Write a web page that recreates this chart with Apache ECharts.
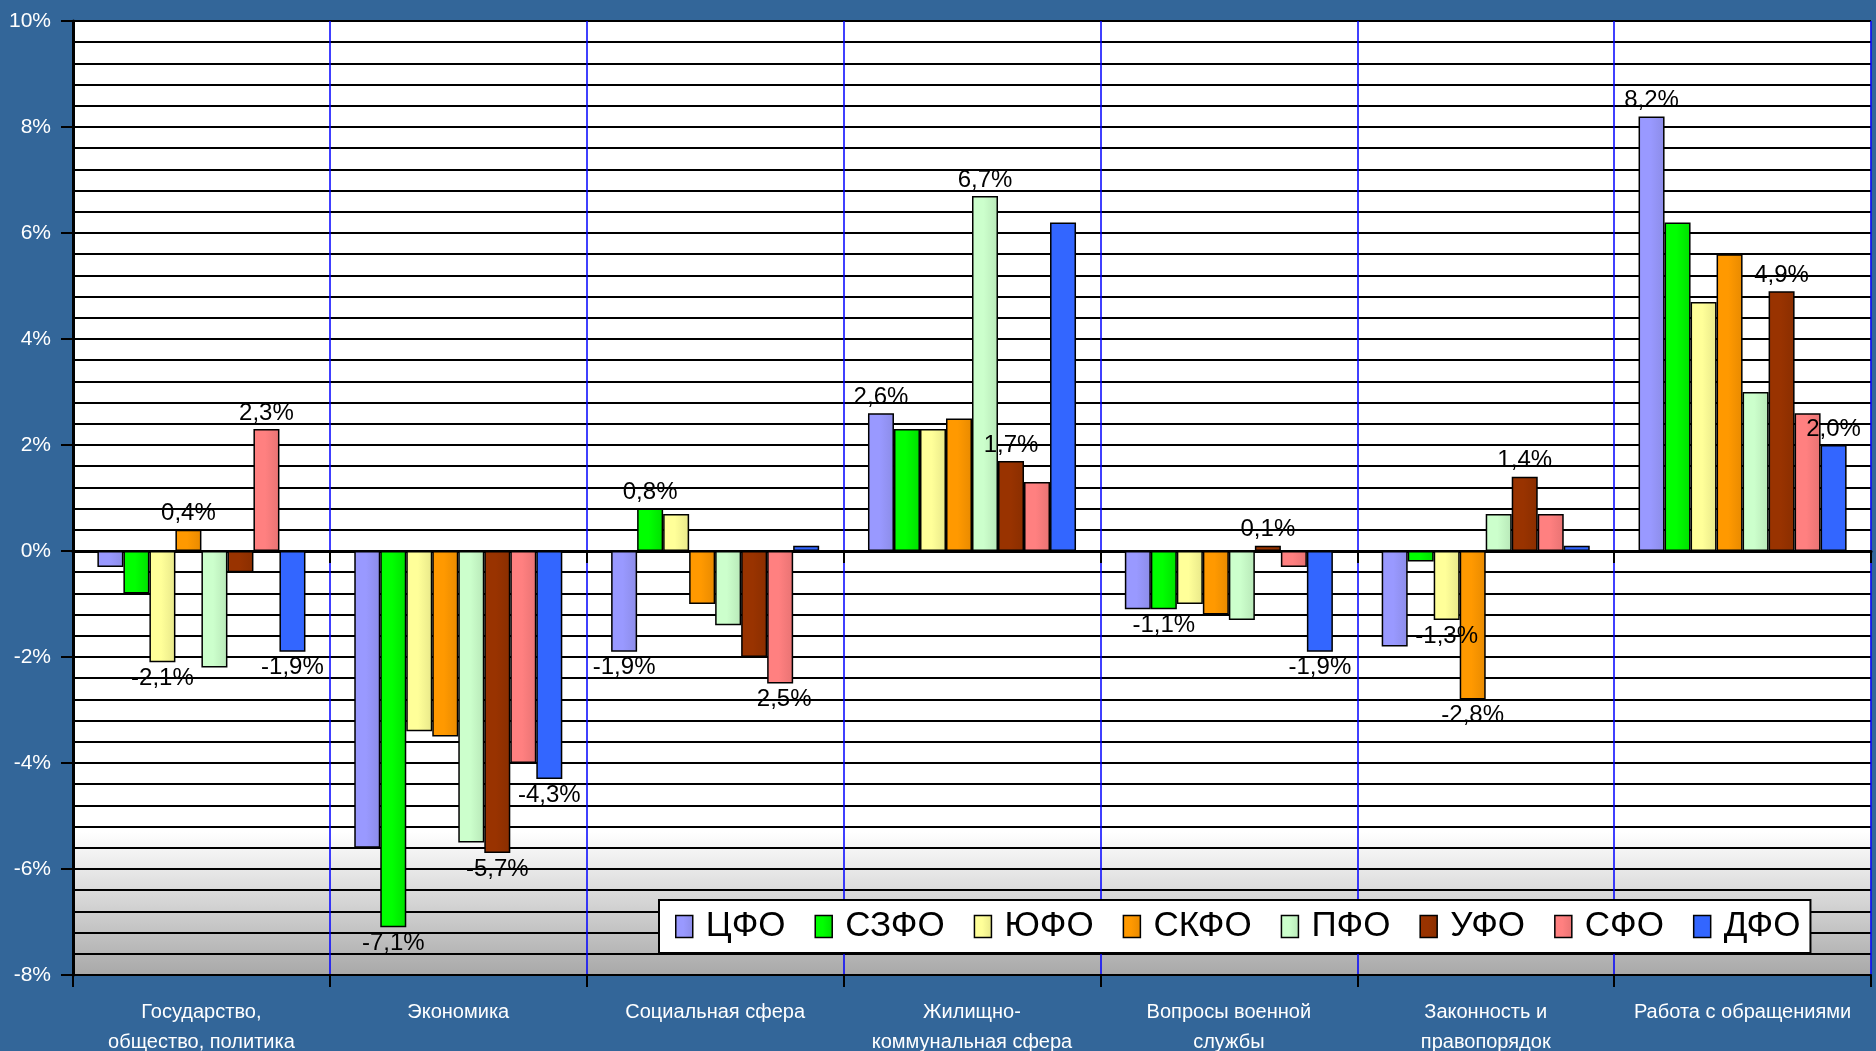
<!DOCTYPE html>
<html>
<head>
<meta charset="utf-8">
<script src="https://cdn.jsdelivr.net/npm/echarts@6/dist/echarts.min.js"></script>
<style>
  html, body { margin: 0; padding: 0; background: #336699; }
  #chart { width: 1876px; height: 1051px; }
</style>
</head>
<body>
<div id="chart"></div>
<script>
const categories = [
  'Государство,\nобщество, политика',
  'Экономика',
  'Социальная сфера',
  'Жилищно-\nкоммунальная сфера',
  'Вопросы военной\nслужбы',
  'Законность и\nправопорядок',
  'Работа с обращениями'
]
const regions = ['ЦФО', 'СЗФО', 'ЮФО', 'СКФО', 'ПФО', 'УФО', 'СФО', 'ДФО']

// change, % — one array per federal district, in category order
const cfo = [-0.3, -5.6, -1.9, 2.6, -1.1, -1.8, 8.2]
const szfo = [-0.8, -7.1, 0.8, 2.3, -1.1, -0.2, 6.2]
const yufo = [-2.1, -3.4, 0.7, 2.3, -1.0, -1.3, 4.7]
const skfo = [0.4, -3.5, -1.0, 2.5, -1.2, -2.8, 5.6]
const pfo = [-2.2, -5.5, -1.4, 6.7, -1.3, 0.7, 3.0]
const ufo = [-0.4, -5.7, -2.0, 1.7, 0.1, 1.4, 4.9]
const sfo = [2.3, -4.0, -2.5, 1.3, -0.3, 0.7, 2.6]
const dfo = [-1.9, -4.3, 0.1, 6.2, -1.9, 0.1, 2.0]
const values = [cfo, szfo, yufo, skfo, pfo, ufo, sfo, dfo]

// which bars carry a value label, per category
const labeled = [
  ['ЮФО', 'СКФО', 'СФО', 'ДФО'],
  ['СЗФО', 'УФО', 'ДФО'],
  ['ЦФО', 'СЗФО', 'СФО'],
  ['ЦФО', 'ПФО', 'УФО'],
  ['СЗФО', 'УФО', 'ДФО'],
  ['ЮФО', 'СКФО', 'УФО'],
  ['ЦФО', 'УФО', 'ДФО']
]

const yMin = -8
const yMax = 10
const yStep = 2

const colors = [
  ['#9999ff', '#8c8ce8'],
  ['#00ff00', '#00e000'],
  ['#ffff99', '#e8e88a'],
  ['#ff9900', '#e88a00'],
  ['#ccffcc', '#b8e8b8'],
  ['#993300', '#8a2e00'],
  ['#ff8080', '#e87373'],
  ['#3366ff', '#3366ff']
]

const font = '"Liberation Sans", Arial, sans-serif'
const fmt = v => v.toFixed(1).replace('.', ',') + '%'

function barGradient(c) {
  return {
    type: 'linear', x: 0, y: 0, x2: 1, y2: 0,
    colorStops: [
      { offset: 0, color: c[0] },
      { offset: 0.45, color: c[0] },
      { offset: 1, color: c[1] }
    ]
  }
}

const series = regions.map((name, i) => ({
  name,
  type: 'bar',
  xAxisIndex: 0,
  barGap: '0%',
  barCategoryGap: '19%',
  itemStyle: { color: barGradient(colors[i]), borderColor: '#000', borderWidth: 1.5 },
  data: values[i].map((v, j) => ({
    value: v,
    label: {
      show: labeled[j].includes(name),
      position: v >= 0 ? 'top' : 'bottom',
      distance: 4,
      formatter: p => fmt(p.value),
      color: '#000',
      fontSize: 24,
      fontFamily: font
    }
  }))
}))

const chart = echarts.init(document.getElementById('chart'))
chart.setOption({
  backgroundColor: '#336699',
  animation: false,
  grid: {
    left: 73, right: 5, top: 21, bottom: 76,
    outerBoundsMode: 'none',
    show: true,
    borderColor: '#808080',
    borderWidth: 1,
    backgroundColor: {
      type: 'linear', x: 0, y: 0, x2: 0, y2: 1,
      colorStops: [
        { offset: 0, color: '#ffffff' },
        { offset: 0.85, color: '#ffffff' },
        { offset: 1, color: '#a8a8a8' }
      ]
    }
  },
  legend: {
    data: regions,
    left: 659,
    top: 900,
    orient: 'horizontal',
    backgroundColor: '#fff',
    borderColor: '#000',
    borderWidth: 2,
    padding: [9, 10, 9, 16],
    itemGap: 29,
    itemWidth: 17,
    itemHeight: 22,
    icon: 'rect',
    itemStyle: { borderColor: '#000', borderWidth: 1.5 },
    textStyle: { fontSize: 35, color: '#000', fontFamily: font, padding: [0, 0, 0, 8] }
  },
  xAxis: [
    {
      type: 'category',
      data: categories,
      position: 'bottom',
      axisLine: { onZero: true, lineStyle: { color: '#000', width: 3 } },
      axisTick: { show: true, interval: 0, length: 12, lineStyle: { color: '#000', width: 2 } },
      axisLabel: { show: false },
      splitLine: { show: true, interval: 0, lineStyle: { color: '#0000ff', width: 1.5 } }
    },
    {
      type: 'category',
      data: categories,
      position: 'bottom',
      axisLine: { onZero: false, lineStyle: { color: '#000', width: 2 } },
      axisTick: { show: true, interval: 0, length: 12, lineStyle: { color: '#000', width: 2 } },
      axisLabel: {
        interval: 0,
        margin: 22,
        color: '#fff',
        fontSize: 20,
        lineHeight: 30,
        fontFamily: font
      },
      splitLine: { show: false }
    }
  ],
  yAxis: {
    type: 'value',
    min: yMin,
    max: yMax,
    interval: yStep,
    axisLine: { show: true, lineStyle: { color: '#000', width: 3 } },
    axisTick: { show: true, length: 12, lineStyle: { color: '#000', width: 2 } },
    axisLabel: {
      formatter: '{value}%',
      color: '#fff',
      fontSize: 21,
      margin: 22,
      fontFamily: font
    },
    splitLine: { lineStyle: { color: '#000', width: 2 } },
    minorTick: { show: false, splitNumber: 5 },
    minorSplitLine: { show: true, lineStyle: { color: '#000', width: 2 } }
  },
  series
})
</script>
</body>
</html>
